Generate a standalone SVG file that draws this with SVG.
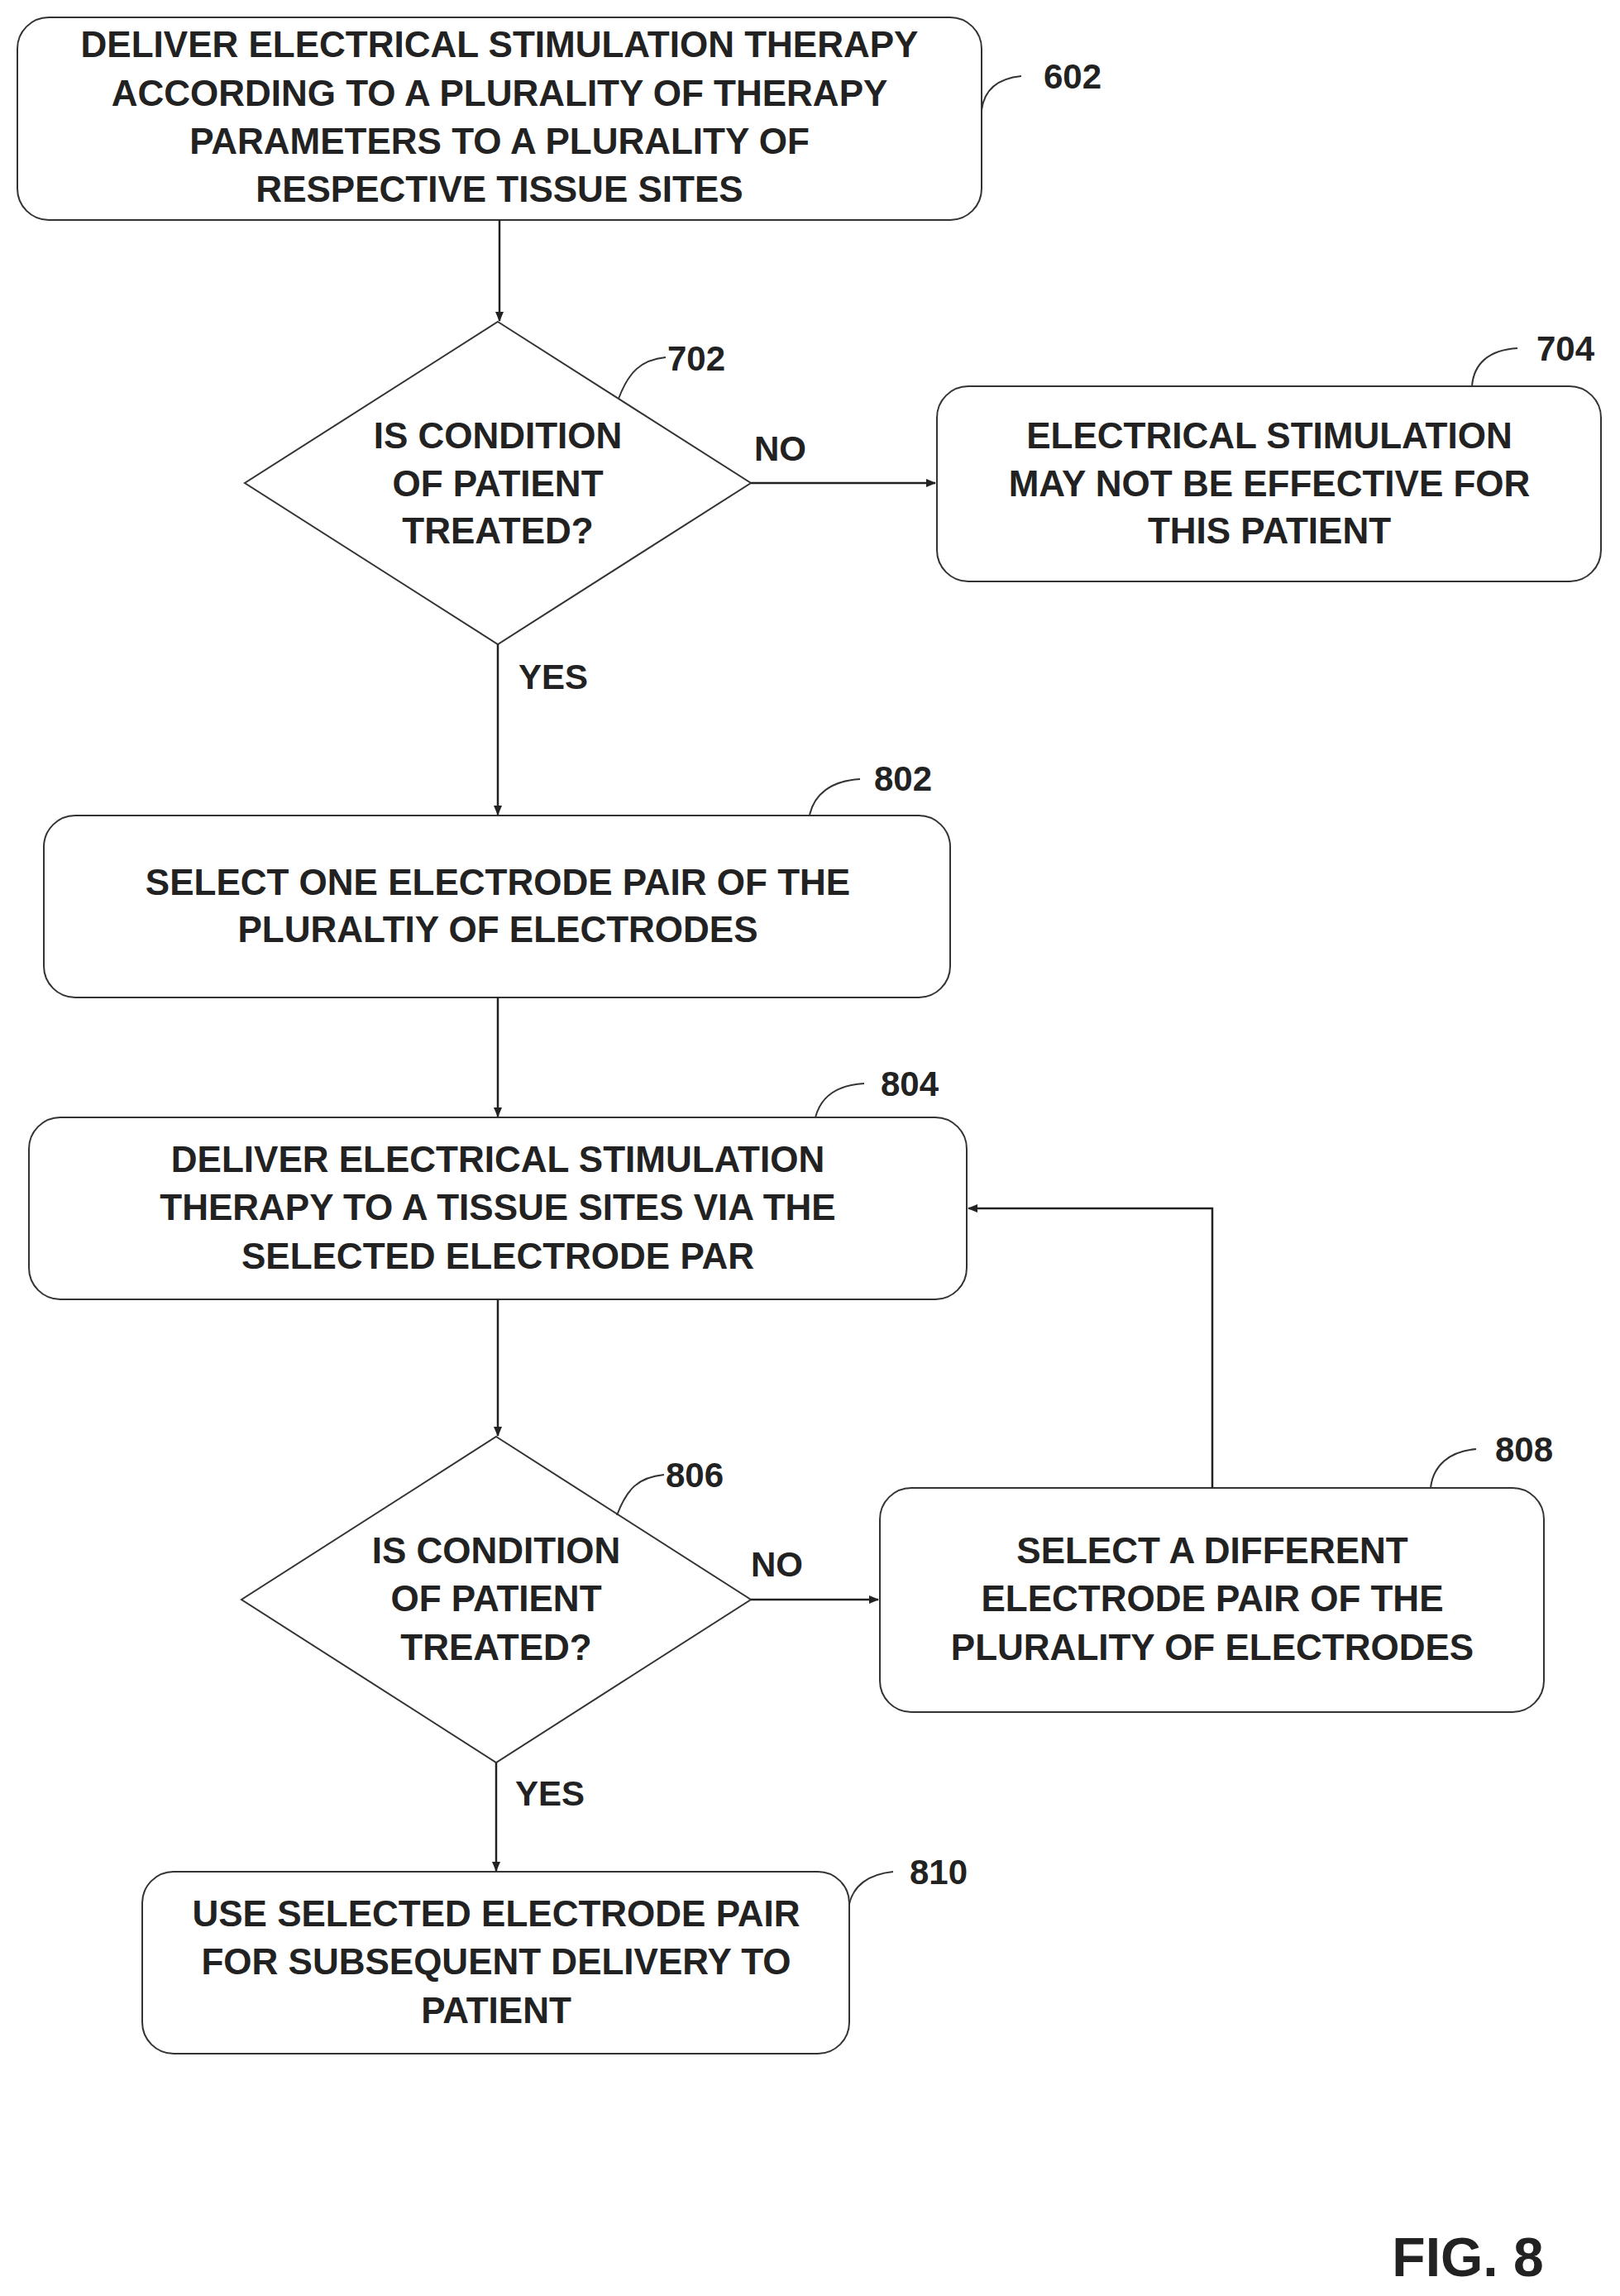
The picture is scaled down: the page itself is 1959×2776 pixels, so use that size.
<svg xmlns="http://www.w3.org/2000/svg" width="1959" height="2776" viewBox="0 0 1959 2776">
<style>
.b{fill:#fff;stroke:#333;stroke-width:2}
.t{font-family:"Liberation Sans",Arial,sans-serif;font-weight:bold;font-size:44px;fill:#222;text-anchor:middle}
.l{font-family:"Liberation Sans",Arial,sans-serif;font-weight:bold;font-size:42px;fill:#222}
.c{fill:none;stroke:#222;stroke-width:2.5}
.r{fill:none;stroke:#333;stroke-width:2}
</style>
<defs><marker id="a" markerWidth="12" markerHeight="10" refX="11" refY="5" orient="auto" markerUnits="userSpaceOnUse" viewBox="0 0 12 10"><path d="M0,0 L12,5 L0,10 Z" fill="#222"/></marker></defs>
<rect width="1959" height="2776" fill="#fff"/>
<g id="n602"><rect class="b" x="21" y="21" width="1166" height="245" rx="38"/>
<text class="t" x="604" y="69">DELIVER ELECTRICAL STIMULATION THERAPY</text>
<text class="t" x="604" y="128">ACCORDING TO A PLURALITY OF THERAPY</text>
<text class="t" x="604" y="186">PARAMETERS TO A PLURALITY OF</text>
<text class="t" x="604" y="244">RESPECTIVE TISSUE SITES</text>
<path class="r" d="M1187,133 C1190,110 1205,95 1235,92"/><text class="l" x="1262" y="107">602</text></g>
<g id="n702"><polygon class="b" points="602,389 908,584 602,779 296,584"/>
<text class="t" x="602" y="542">IS CONDITION</text><text class="t" x="602" y="600">OF PATIENT</text><text class="t" x="602" y="657">TREATED?</text>
<path class="r" d="M748,482 C760,450 775,435 805,432"/><text class="l" x="807" y="448">702</text></g>
<g id="n704"><rect class="b" x="1133" y="467" width="803" height="236" rx="38"/>
<text class="t" x="1535" y="542">ELECTRICAL STIMULATION</text><text class="t" x="1535" y="600">MAY NOT BE EFFECTIVE FOR</text><text class="t" x="1535" y="657">THIS PATIENT</text>
<path class="r" d="M1780,467 C1782,440 1800,423 1835,421"/><text class="l" x="1858" y="436">704</text></g>
<g id="n802"><rect class="b" x="53" y="986" width="1096" height="220" rx="38"/>
<text class="t" x="602" y="1082">SELECT ONE ELECTRODE PAIR OF THE</text><text class="t" x="602" y="1139">PLURALTIY OF ELECTRODES</text>
<path class="r" d="M979,985 C985,960 1005,944 1040,942"/><text class="l" x="1057" y="956">802</text></g>
<g id="n804"><rect class="b" x="35" y="1351" width="1134" height="220" rx="38"/>
<text class="t" x="602" y="1417">DELIVER ELECTRICAL STIMULATION</text><text class="t" x="602" y="1475">THERAPY TO A TISSUE SITES VIA THE</text><text class="t" x="602" y="1534">SELECTED ELECTRODE PAR</text>
<path class="r" d="M986,1351 C992,1328 1010,1312 1045,1310"/><text class="l" x="1065" y="1325">804</text></g>
<g id="n806"><polygon class="b" points="600,1737 908,1934 600,2131 292,1934"/>
<text class="t" x="600" y="1890">IS CONDITION</text><text class="t" x="600" y="1948">OF PATIENT</text><text class="t" x="600" y="2007">TREATED?</text>
<path class="r" d="M746,1832 C758,1800 772,1786 803,1783"/><text class="l" x="805" y="1798">806</text></g>
<g id="n808"><rect class="b" x="1064" y="1799" width="803" height="271" rx="38"/>
<text class="t" x="1466" y="1890">SELECT A DIFFERENT</text><text class="t" x="1466" y="1948">ELECTRODE PAIR  OF THE</text><text class="t" x="1466" y="2007">PLURALITY OF ELECTRODES</text>
<path class="r" d="M1730,1799 C1733,1772 1752,1755 1785,1752"/><text class="l" x="1808" y="1767">808</text></g>
<g id="n810"><rect class="b" x="172" y="2263" width="855" height="220" rx="38"/>
<text class="t" x="600" y="2329">USE SELECTED ELECTRODE PAIR</text><text class="t" x="600" y="2387">FOR SUBSEQUENT DELIVERY TO</text><text class="t" x="600" y="2446">PATIENT</text>
<path class="r" d="M1027,2302 C1032,2280 1050,2266 1080,2263"/><text class="l" x="1100" y="2278">810</text></g>
<g id="connectors">
<line class="c" x1="604" y1="266" x2="604" y2="388" marker-end="url(#a)"/>
<line class="c" x1="908" y1="584" x2="1131" y2="584" marker-end="url(#a)"/>
<line class="c" x1="602" y1="779" x2="602" y2="985" marker-end="url(#a)"/>
<line class="c" x1="602" y1="1206" x2="602" y2="1350" marker-end="url(#a)"/>
<line class="c" x1="602" y1="1571" x2="602" y2="1736" marker-end="url(#a)"/>
<line class="c" x1="908" y1="1934" x2="1062" y2="1934" marker-end="url(#a)"/>
<polyline class="c" points="1466,1799 1466,1461 1171,1461" marker-end="url(#a)"/>
<line class="c" x1="600" y1="2131" x2="600" y2="2262" marker-end="url(#a)"/>
<text class="l" x="912" y="557">NO</text><text class="l" x="627" y="833">YES</text>
<text class="l" x="908" y="1906">NO</text><text class="l" x="623" y="2183">YES</text>
</g>
<text x="1775" y="2752" style="font-family:'Liberation Sans',Arial,sans-serif;font-weight:bold;font-size:66px;fill:#222" text-anchor="middle">FIG. 8</text>
</svg>
